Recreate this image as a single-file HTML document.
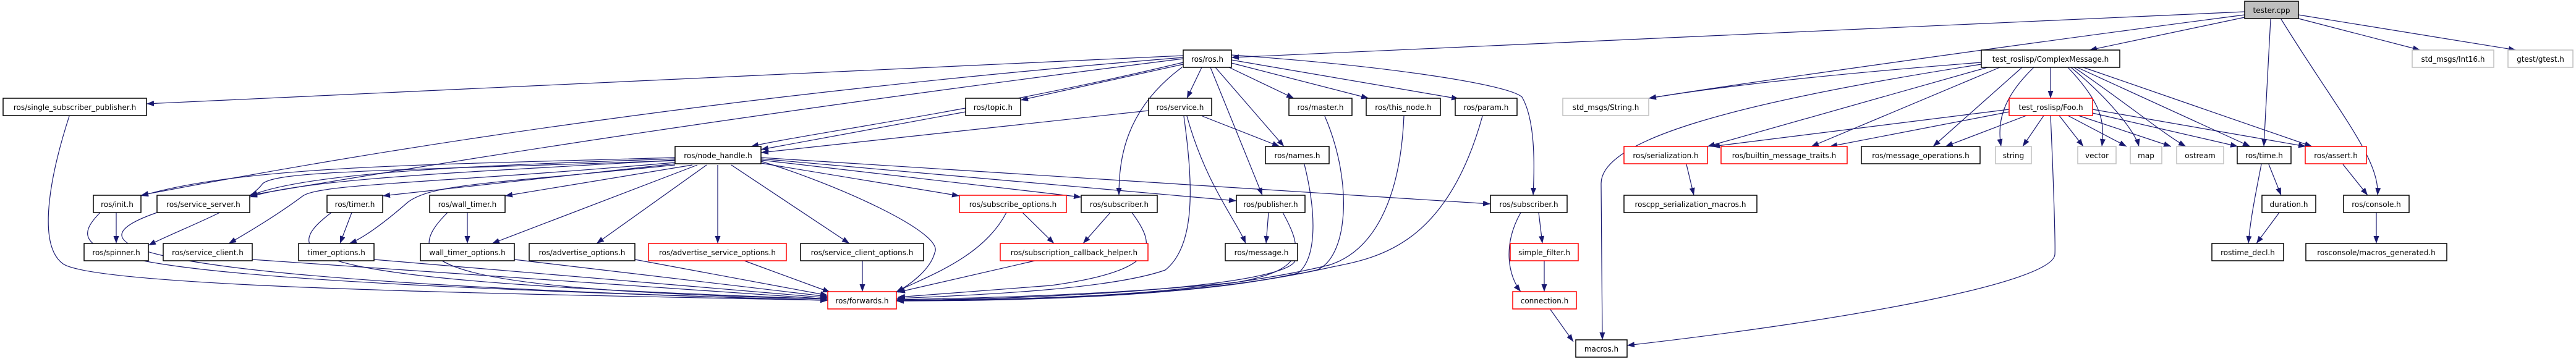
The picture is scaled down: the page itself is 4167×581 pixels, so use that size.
<!DOCTYPE html>
<html><head><meta charset="utf-8"><style>
html,body{margin:0;padding:0;background:#fff;}
svg{display:block;}
text{font-family:"DejaVu Sans","Liberation Sans",sans-serif;font-size:12px;fill:#000;}
.e{fill:none;stroke:#191970;stroke-width:1.2;marker-end:url(#a);}
.b{fill:#fff;stroke:#000;stroke-width:1.5;}
.r{fill:#fff;stroke:#ff0000;stroke-width:1.5;}
.g{fill:#fff;stroke:#bfbfbf;stroke-width:1.5;}
</style></head><body>
<svg width="4167" height="581" viewBox="0 0 4167 581" xmlns="http://www.w3.org/2000/svg">
<defs><marker id="a" viewBox="0 0 10 10" refX="10" refY="5" markerUnits="userSpaceOnUse" markerWidth="12" markerHeight="9" orient="auto" preserveAspectRatio="none"><path d="M0,0 L10,5 L0,10 z" fill="#191970"/></marker></defs>
<g transform="translate(0,-3)">
<!-- edges -->
<path class="e" d="M3631,22 L1992,96"/>
<path class="e" d="M3631,27 C3300,70 2800,140 2667,162"/>
<path class="e" d="M3631,31 L3380,84"/>
<path class="e" d="M3673,34 L3662,240"/>
<path class="e" d="M3690,34 C3780,180 3850,260 3846,319"/>
<path class="e" d="M3718,33 L3915,84"/>
<path class="e" d="M3718,27 L4070,84"/>

<path class="e" d="M1914,93 L237,171"/>
<path class="e" d="M1914,96 Q1000,170 228,319"/>
<path class="e" d="M1914,98 Q1100,200 404,319"/>
<path class="e" d="M1914,104 C1600,180 1300,220 1215,240"/>
<path class="e" d="M1914,107 L1651,165"/>
<path class="e" d="M1944,112 L1920,162"/>
<path class="e" d="M1912,112 C1820,180 1810,260 1810,319"/>
<path class="e" d="M1958,112 L2042,319"/>
<path class="e" d="M1966,112 L2077,240"/>
<path class="e" d="M1984,110 L2093,162"/>
<path class="e" d="M1992,105 L2214,162"/>
<path class="e" d="M1992,100 L2360,163"/>
<path class="e" d="M1992,92 C2250,110 2440,140 2462,160 C2485,200 2482,280 2480,319"/>

<path class="e" d="M1562,184 L1231,245"/>
<path class="e" d="M1858,182 L1231,250"/>
<path class="e" d="M1945,191 L2070,240"/>
<path class="e" d="M1920,191 C1950,300 2000,360 2015,397"/>

<path class="e" d="M1092,258 C700,270 400,270 228,320"/>
<path class="e" d="M1092,260 C800,270 500,280 404,320"/>
<path class="e" d="M1092,262 C800,280 500,290 404,322"/>
<path class="e" d="M1092,263 C600,280 450,280 425,300 C400,335 300,370 240,400"/>
<path class="e" d="M1092,266 C700,300 520,300 490,320 C450,350 400,380 370,397"/>
<path class="e" d="M1092,268 L619,320"/>
<path class="e" d="M1092,270 C800,300 700,300 660,330 C620,365 585,390 565,397"/>
<path class="e" d="M1120,270 L817,320"/>
<path class="e" d="M1128,270 L796,397"/>
<path class="e" d="M1143,270 L965,397"/>
<path class="e" d="M1161,270 L1161,397"/>
<path class="e" d="M1183,270 L1374,397"/>
<path class="e" d="M1231,267 L1552,320"/>
<path class="e" d="M1231,262 L1749,322"/>
<path class="e" d="M1231,260 L2000,328"/>
<path class="e" d="M1231,258 L2411,333"/>
<path class="e" d="M1231,264 C1350,300 1530,380 1512,412 C1505,440 1470,465 1450,476"/>

<path class="e" d="M112,191 C80,290 60,400 102,430 C160,470 900,480 1339,489"/>
<path class="e" d="M162,347 C90,420 150,455 1339,489"/>
<path class="e" d="M254,347 C130,390 100,455 1339,489"/>
<path class="e" d="M188,347 L188,397"/>
<path class="e" d="M536,347 C440,420 480,458 1339,487"/>
<path class="e" d="M569,347 L550,397"/>
<path class="e" d="M724,347 C640,430 700,472 1339,487"/>
<path class="e" d="M756,347 L756,397"/>
<path class="e" d="M408,423 L1339,487"/>
<path class="e" d="M605,423 L1339,485"/>
<path class="e" d="M832,423 L1339,483"/>
<path class="e" d="M1027,423 L1339,481"/>
<path class="e" d="M1204,425 L1343,476"/>
<path class="e" d="M1395,425 L1395,475"/>
<path class="e" d="M1628,347 C1590,420 1500,450 1450,475"/>
<path class="e" d="M1674,425 L1452,476"/>
<path class="e" d="M1831,347 C1870,400 1880,440 1700,465 L1452,484"/>
<path class="e" d="M1915,191 C1930,300 1935,400 1885,440 C1800,470 1600,480 1450,486"/>
<path class="e" d="M2075,347 C2110,410 2110,440 2000,460 C1800,480 1600,485 1450,488"/>
<path class="e" d="M2095,425 C2080,460 1800,485 1450,489"/>
<path class="e" d="M2110,269 C2130,350 2130,420 2100,445 C1950,480 1700,488 1450,489"/>
<path class="e" d="M2143,191 C2190,300 2180,420 2130,440 C1950,480 1700,487 1450,490"/>
<path class="e" d="M2271,191 C2265,330 2220,410 2150,432 C1950,480 1700,488 1450,490"/>
<path class="e" d="M2398,191 C2340,400 2230,420 2155,435 C2000,470 1800,490 1450,490"/>

<path class="e" d="M1654,347 L1705,397"/>
<path class="e" d="M1796,347 L1752,397"/>
<path class="e" d="M2052,347 L2048,397"/>
<path class="e" d="M2489,347 L2495,397"/>
<path class="e" d="M2460,347 C2430,400 2440,450 2460,475"/>
<path class="e" d="M2498,425 L2498,475"/>
<path class="e" d="M2508,504 L2545,556"/>

<path class="e" d="M3205,104 C3000,120 2800,140 2667,162"/>
<path class="e" d="M3205,107 C2800,170 2590,230 2590,300 L2592,553"/>
<path class="e" d="M3215,112 L2762,240"/>
<path class="e" d="M3235,112 L2930,240"/>
<path class="e" d="M3271,112 L3127,240"/>
<path class="e" d="M3317,112 L3317,162"/>
<path class="e" d="M3290,112 C3240,160 3230,200 3237,240"/>
<path class="e" d="M3345,112 C3400,170 3405,200 3400,240"/>
<path class="e" d="M3350,112 C3420,170 3455,220 3460,240"/>
<path class="e" d="M3355,112 C3440,170 3500,220 3536,240"/>
<path class="e" d="M3360,112 L3640,240"/>
<path class="e" d="M3370,112 L3740,240"/>

<path class="e" d="M3250,180 L2770,240"/>
<path class="e" d="M3250,184 L2960,240"/>
<path class="e" d="M3278,190 L3147,240"/>
<path class="e" d="M3306,190 L3272,240"/>
<path class="e" d="M3331,190 L3370,240"/>
<path class="e" d="M3345,190 L3440,240"/>
<path class="e" d="M3362,190 L3512,240"/>
<path class="e" d="M3385,186 L3620,240"/>
<path class="e" d="M3385,180 L3730,240"/>
<path class="e" d="M3317,190 C3322,300 3325,400 3324,415 C3320,460 3000,520 2632,562"/>

<path class="e" d="M2728,269 L2740,319"/>
<path class="e" d="M3670,269 L3690,319"/>
<path class="e" d="M3658,269 C3648,320 3640,360 3637,397"/>
<path class="e" d="M3687,347 L3650,397"/>
<path class="e" d="M3790,269 L3830,319"/>
<path class="e" d="M3844,347 L3844,397"/>

<!-- nodes -->
<g>
<rect x="3631" y="5" width="87" height="28" fill="#bfbfbf" stroke="#000" stroke-width="1.5"/><text x="3674.5" y="24" text-anchor="middle">tester.cpp</text>
<rect class="b" x="1914" y="84" width="78" height="28"/><text x="1953" y="103" text-anchor="middle">ros/ros.h</text>
<rect class="b" x="3205" y="84" width="224" height="28"/><text x="3317" y="103" text-anchor="middle">test_roslisp/ComplexMessage.h</text>
<rect class="g" x="3902" y="84" width="132" height="28"/><text x="3968" y="103" text-anchor="middle">std_msgs/Int16.h</text>
<rect class="g" x="4057" y="84" width="105" height="28"/><text x="4109.5" y="103" text-anchor="middle">gtest/gtest.h</text>

<rect class="b" x="5" y="162" width="232" height="28"/><text x="121" y="181" text-anchor="middle">ros/single_subscriber_publisher.h</text>
<rect class="b" x="1562" y="162" width="89" height="28"/><text x="1606.5" y="181" text-anchor="middle">ros/topic.h</text>
<rect class="b" x="1858" y="162" width="102" height="28"/><text x="1909" y="181" text-anchor="middle">ros/service.h</text>
<rect class="b" x="2085" y="162" width="102" height="28"/><text x="2136" y="181" text-anchor="middle">ros/master.h</text>
<rect class="b" x="2210" y="162" width="120" height="28"/><text x="2270" y="181" text-anchor="middle">ros/this_node.h</text>
<rect class="b" x="2354" y="162" width="100" height="28"/><text x="2404" y="181" text-anchor="middle">ros/param.h</text>
<rect class="g" x="2528" y="162" width="139" height="28"/><text x="2597.5" y="181" text-anchor="middle">std_msgs/String.h</text>
<rect class="r" x="3250" y="162" width="135" height="28"/><text x="3317.5" y="181" text-anchor="middle">test_roslisp/Foo.h</text>

<rect class="b" x="1092" y="240" width="139" height="28"/><text x="1161.5" y="259" text-anchor="middle">ros/node_handle.h</text>
<rect class="b" x="2047" y="240" width="103" height="28"/><text x="2098.5" y="259" text-anchor="middle">ros/names.h</text>
<rect class="r" x="2627" y="240" width="135" height="28"/><text x="2694.5" y="259" text-anchor="middle">ros/serialization.h</text>
<rect class="r" x="2784" y="240" width="204" height="28"/><text x="2886" y="259" text-anchor="middle">ros/builtin_message_traits.h</text>
<rect class="b" x="3011" y="240" width="192" height="28"/><text x="3107" y="259" text-anchor="middle">ros/message_operations.h</text>
<rect class="g" x="3228" y="240" width="58" height="28"/><text x="3257" y="259" text-anchor="middle">string</text>
<rect class="g" x="3361" y="240" width="62" height="28"/><text x="3392" y="259" text-anchor="middle">vector</text>
<rect class="g" x="3446" y="240" width="51" height="28"/><text x="3471.5" y="259" text-anchor="middle">map</text>
<rect class="g" x="3521" y="240" width="76" height="28"/><text x="3559" y="259" text-anchor="middle">ostream</text>
<rect class="b" x="3619" y="240" width="87" height="28"/><text x="3662.5" y="259" text-anchor="middle">ros/time.h</text>
<rect class="r" x="3729" y="240" width="99" height="28"/><text x="3778.5" y="259" text-anchor="middle">ros/assert.h</text>

<rect class="b" x="151" y="319" width="77" height="28"/><text x="189.5" y="338" text-anchor="middle">ros/init.h</text>
<rect class="b" x="254" y="319" width="150" height="28"/><text x="329" y="338" text-anchor="middle">ros/service_server.h</text>
<rect class="b" x="529" y="319" width="90" height="28"/><text x="574" y="338" text-anchor="middle">ros/timer.h</text>
<rect class="b" x="695" y="319" width="122" height="28"/><text x="756" y="338" text-anchor="middle">ros/wall_timer.h</text>
<rect class="r" x="1552" y="319" width="173" height="28"/><text x="1638.5" y="338" text-anchor="middle">ros/subscribe_options.h</text>
<rect class="b" x="1749" y="319" width="123" height="28"/><text x="1810.5" y="338" text-anchor="middle">ros/subscriber.h</text>
<rect class="b" x="2000" y="319" width="111" height="28"/><text x="2055.5" y="338" text-anchor="middle">ros/publisher.h</text>
<rect class="b" x="2411" y="319" width="124" height="28"/><text x="2473" y="338" text-anchor="middle">ros/subscriber.h</text>
<rect class="b" x="2627" y="319" width="215" height="28"/><text x="2734.5" y="338" text-anchor="middle">roscpp_serialization_macros.h</text>
<rect class="b" x="3659" y="319" width="87" height="28"/><text x="3702.5" y="338" text-anchor="middle">duration.h</text>
<rect class="b" x="3791" y="319" width="106" height="28"/><text x="3844" y="338" text-anchor="middle">ros/console.h</text>

<rect class="b" x="136" y="397" width="104" height="28"/><text x="188" y="416" text-anchor="middle">ros/spinner.h</text>
<rect class="b" x="264" y="397" width="144" height="28"/><text x="336" y="416" text-anchor="middle">ros/service_client.h</text>
<rect class="b" x="483" y="397" width="122" height="28"/><text x="544" y="416" text-anchor="middle">timer_options.h</text>
<rect class="b" x="680" y="397" width="152" height="28"/><text x="756" y="416" text-anchor="middle">wall_timer_options.h</text>
<rect class="b" x="856" y="397" width="171" height="28"/><text x="941.5" y="416" text-anchor="middle">ros/advertise_options.h</text>
<rect class="r" x="1049" y="397" width="223" height="28"/><text x="1160.5" y="416" text-anchor="middle">ros/advertise_service_options.h</text>
<rect class="b" x="1295" y="397" width="199" height="28"/><text x="1394.5" y="416" text-anchor="middle">ros/service_client_options.h</text>
<rect class="r" x="1618" y="397" width="239" height="28"/><text x="1737.5" y="416" text-anchor="middle">ros/subscription_callback_helper.h</text>
<rect class="b" x="1982" y="397" width="117" height="28"/><text x="2040.5" y="416" text-anchor="middle">ros/message.h</text>
<rect class="r" x="2443" y="397" width="110" height="28"/><text x="2498" y="416" text-anchor="middle">simple_filter.h</text>
<rect class="b" x="3578" y="397" width="116" height="28"/><text x="3636" y="416" text-anchor="middle">rostime_decl.h</text>
<rect class="b" x="3730" y="397" width="228" height="28"/><text x="3844" y="416" text-anchor="middle">rosconsole/macros_generated.h</text>

<rect class="r" x="1339" y="475" width="111" height="28"/><text x="1394.5" y="494" text-anchor="middle">ros/forwards.h</text>
<rect class="r" x="2447" y="475" width="103" height="28"/><text x="2498.5" y="494" text-anchor="middle">connection.h</text>

<rect class="b" x="2549" y="553" width="83" height="28"/><text x="2590.5" y="572" text-anchor="middle">macros.h</text>
</g>
</g>
</svg>
</body></html>
